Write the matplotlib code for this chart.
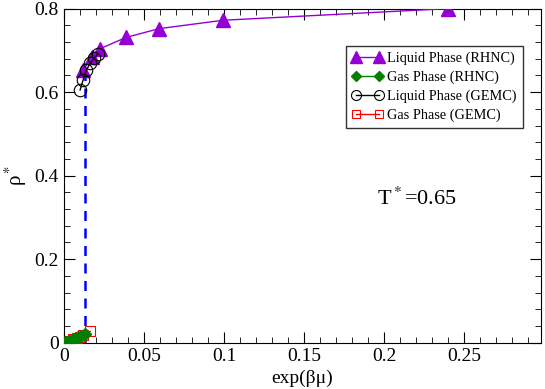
import matplotlib
matplotlib.use("Agg")
import matplotlib.pyplot as plt
from matplotlib.ticker import MultipleLocator

plt.rcParams["font.family"] = ["Liberation Serif", "DejaVu Serif"]
plt.rcParams["mathtext.fontset"] = "stix"

# ── data ─────────────────────────────────────────────────────────────
liq_rhnc_x = [0.0121, 0.0177, 0.0227, 0.039, 0.0596, 0.0995, 0.240]
liq_rhnc_y = [0.653, 0.683, 0.704, 0.731, 0.752, 0.772, 0.800]

gas_rhnc_x = [0.001, 0.003, 0.005, 0.007, 0.009, 0.011, 0.013]
gas_rhnc_y = [0.001, 0.004, 0.007, 0.010, 0.013, 0.017, 0.021]

liq_gemc_x = [0.0102, 0.0120, 0.0140, 0.0165, 0.0190, 0.0215]
liq_gemc_y = [0.605, 0.628, 0.652, 0.669, 0.681, 0.692]

gas_gemc_x = [0.002, 0.004, 0.006, 0.008, 0.010, 0.012, 0.0165]
gas_gemc_y = [0.002, 0.005, 0.008, 0.011, 0.014, 0.018, 0.027]

coex_x = 0.013
coex_top = 0.652
# ─────────────────────────────────────────────────────────────────────

fig = plt.figure(figsize=(5.45, 3.89), dpi=100)
ax = fig.add_axes([0.117, 0.119, 0.876, 0.859])

ax.plot(liq_rhnc_x, liq_rhnc_y, "-^", color="#9400D3", lw=1, ms=10,
        label="Liquid Phase (RHNC)", zorder=3)
ax.plot(gas_rhnc_x, gas_rhnc_y, "-D", color="#008000", lw=1, ms=6,
        label="Gas Phase (RHNC)", zorder=4)
ax.plot(liq_gemc_x, liq_gemc_y, "-o", color="black", mfc="none", lw=1,
        ms=9, mew=0.8, label="Liquid Phase (GEMC)", zorder=3)
ax.plot(gas_gemc_x, gas_gemc_y, "-s", color="#FF0000", mfc="none", lw=1,
        ms=7, mew=0.8, label="Gas Phase (GEMC)", zorder=3)
ax.plot([coex_x, coex_x], [0, coex_top], "--", color="#0000FF", lw=1.8,
        dashes=(4, 3), zorder=2)

ax.set_xlim(0, 0.298)
ax.set_ylim(0, 0.8)
ax.xaxis.set_major_locator(MultipleLocator(0.05))
ax.xaxis.set_minor_locator(MultipleLocator(0.01))
ax.yaxis.set_major_locator(MultipleLocator(0.2))
ax.yaxis.set_minor_locator(MultipleLocator(0.04))
ax.xaxis.set_major_formatter(plt.FuncFormatter(lambda v, _: f"{v:g}"))
ax.yaxis.set_major_formatter(plt.FuncFormatter(lambda v, _: f"{v:g}"))
ax.tick_params(which="both", direction="in", top=True, right=True,
               labelsize=14)
ax.tick_params(which="major", length=8)
ax.tick_params(which="minor", length=4)

ax.set_xlabel("exp(βμ)", fontsize=14, labelpad=4)
ax.set_ylabel("ρ$^*$", fontsize=15, labelpad=4)

ax.text(0.1956, 0.329, "T$^*$=0.65", fontsize=16, va="baseline")

leg = ax.legend(loc="upper right", bbox_to_anchor=(0.97, 0.90),
                fontsize=10.3, frameon=True, fancybox=False,
                edgecolor="black", numpoints=2, markerscale=0.8,
                handlelength=2.2, borderpad=0.4, labelspacing=0.38,
                handletextpad=0.3, borderaxespad=0.3)
leg.get_frame().set_linewidth(1)

fig.savefig("out.png", dpi=100)
